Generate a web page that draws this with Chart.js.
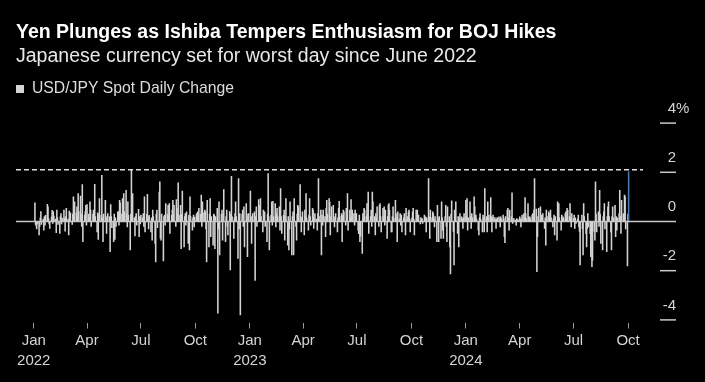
<!DOCTYPE html>
<html><head><meta charset="utf-8">
<script src="https://cdn.jsdelivr.net/npm/chart.js@4.4.1/dist/chart.umd.min.js"></script>
<style>html,body{margin:0;padding:0;background:#000;}canvas{display:block;}</style>
</head><body>
<canvas id="c" width="705" height="382"></canvas>
<script>
// USD/JPY spot daily % change, one value per weekday
const chg2022 = [0.76,-0.12,-0.18,-0.3,-0.1,-0.55,-0.2,0.15,0.4,-0.12,
0.1,-0.35,0.2,-0.15,0.25,0.7,0.6,0.12,-0.1,-0.28,
0.18,0.45,-0.08,0.4,0.22,0.1,-0.45,0.46,0.15,-0.12,
-0.49,0.2,0.32,-0.1,0.14,0.46,0.12,-0.39,0.2,0.53,
0.1,-0.55,0.42,0.15,0.35,-0.12,0.3,1.0,0.25,0.8,
0.35,0.6,0.2,1.13,0.4,1.03,0.3,-0.2,1.5,-0.82,
0.25,0.4,0.66,-0.15,0.69,0.3,0.15,0.8,0.46,-0.2,
0.3,0.46,0.25,1.51,0.2,-0.42,0.35,-0.73,0.3,0.93,
0.25,1.88,0.15,-0.82,0.3,0.86,0.2,-0.49,0.15,0.32,
0.2,-1.23,0.69,0.2,-0.25,-0.82,0.3,-0.73,0.15,-0.2,
0.39,0.39,-0.15,0.86,0.76,0.3,0.93,0.2,1.13,0.4,
1.27,0.3,-0.22,0.8,0.25,-1.16,0.3,2.1,0.2,1.13,
0.15,-0.59,0.2,0.32,-0.15,0.49,-0.62,0.2,-0.1,0.26,
0.15,0.32,-0.2,1.0,-0.42,0.3,1.1,0.2,-0.3,0.25,
-0.42,0.15,-0.76,0.46,0.2,-0.89,-1.64,0.3,0.46,-0.25,
1.2,1.61,-0.68,-0.76,0.3,-1.6,0.2,0.26,-0.15,0.73,
0.3,0.66,0.2,0.73,-0.49,0.25,0.46,0.86,0.3,0.66,
-0.2,0.89,0.53,0.3,1.57,0.25,0.66,-1.1,0.3,1.24,
-1.03,0.2,0.32,-0.15,0.39,-0.89,0.25,-1.16,1.0,0.2,
-0.35,0.15,0.26,-0.22,0.18,0.32,0.12,0.39,0.25,0.53,
0.3,1.07,-0.2,0.8,0.35,0.46,0.39,-0.3,-1.64,0.86,
-1.03,0.3,0.93,-0.62,0.2,-0.96,0.3,0.26,-1.1,0.2,
0.53,-3.73,-0.3,0.8,-1.36,0.3,0.46,-0.76,0.3,1.3,
-0.82,0.2,0.46,-0.2,-0.55,0.4,-1.97,0.3,1.84,0.2,
-0.69,0.15,0.32,0.8,0.2,-1.5,1.74,-0.3,0.32,-3.8,
0.3,0.46,-0.2,0.6,-1.03,0.73,0.2,-1.43,0.3,0.32];

const chg2023 = [1.24,0.2,-0.89,0.15,0.32,0.39,-2.4,0.2,0.6,-0.2,
0.89,0.3,0.66,0.93,0.2,-0.42,0.46,0.15,0.39,-0.2,
-0.82,0.3,1.95,0.2,-1.16,0.25,0.8,-0.15,0.82,0.2,
0.73,-0.22,0.3,0.53,0.2,0.6,-0.35,1.34,0.2,-0.49,
0.25,0.46,-0.76,0.2,0.93,-0.96,0.2,-1.16,-0.3,0.8,
-1.36,0.2,0.39,-1.36,0.93,-0.2,-0.76,0.3,0.66,0.6,
1.5,0.2,-0.42,0.15,0.39,-0.55,0.46,0.2,1.13,0.15,
-0.35,0.26,0.93,0.2,-0.15,0.53,0.46,-0.28,0.15,0.32,
0.1,-0.35,0.32,1.74,0.2,0.46,-1.36,0.26,-0.15,0.46,
0.2,-0.62,0.53,0.86,0.3,0.93,0.8,-0.55,0.2,0.6,
0.66,0.15,-0.22,0.2,0.32,-0.42,0.15,0.53,0.82,0.2,
0.32,-0.82,0.25,0.46,0.39,-0.15,0.53,0.2,1.13,-0.35,
0.46,0.15,0.89,0.2,0.46,0.32,-0.15,0.46,0.2,0.32,
-0.35,-0.5,0.26,-0.82,-0.6,-1.3,0.32,0.15,0.53,0.46,
0.2,0.73,0.3,1.2,-0.49,0.2,0.46,-0.2,1.2,0.8,
0.2,-0.55,0.32,0.15,0.6,-0.2,0.66,0.73,0.2,-0.42,
0.53,0.2,0.6,-0.15,0.46,-0.69,0.2,0.66,0.73,0.46,
-0.42,-0.42,0.2,0.6,0.15,0.86,0.32,0.15,-0.82,0.39,
0.1,0.32,-0.15,0.26,-0.42,0.15,0.32,0.1,-0.55,0.53,
0.2,0.39,0.46,0.1,-0.42,0.15,0.39,0.53,0.1,-0.55,
0.46,0.15,0.46,0.1,0.26,-0.1,0.16,0.08,0.12,-0.08,
0.26,0.1,0.19,-0.42,0.15,1.74,0.2,-0.69,0.46,0.15,
0.39,0.32,0.1,-0.22,0.2,-0.82,0.66,0.15,-0.82,0.2,
-0.69,0.8,0.15,-0.35,-0.69,0.2,0.66,-0.2,-0.82,0.6,
0.2,-1.03,-2.13,0.3,0.84,-0.4,-1.77,0.46,0.2,0.8,
-0.49,0.2,-1.03,0.15,0.32,0.19,0.1,-0.28,0.15,0.32];

const chg2024 = [0.86,0.2,0.93,-0.35,0.15,0.8,0.2,-0.28,0.32,0.15,
1.0,0.6,0.2,0.26,0.1,-0.35,-0.55,0.15,0.32,0.1,
-0.42,0.26,0.15,-0.42,1.34,0.2,-0.42,0.8,0.15,0.26,
0.97,0.2,-0.42,0.15,0.26,0.16,0.08,-0.28,0.1,0.16,
0.19,0.1,-0.22,0.19,0.1,0.26,0.12,-0.62,-0.86,0.2,
0.46,0.53,0.15,-0.35,0.46,0.2,1.16,-0.08,0.1,0.12,
0.06,-0.15,0.12,0.05,0.08,0.19,0.1,-0.22,0.12,0.26,
0.32,0.15,0.97,0.32,0.12,0.73,0.19,0.1,0.19,0.12,
0.26,0.32,0.15,0.46,1.74,0.5,-2.04,-0.62,0.2,0.53,
0.6,0.15,0.26,0.12,0.32,-0.28,0.15,-0.96,0.46,0.2,
0.39,0.12,0.32,0.46,0.15,-0.22,0.12,0.26,-0.55,0.2,
-0.76,0.8,0.2,0.73,0.15,-0.35,0.26,0.1,0.19,0.12,
0.32,0.39,0.15,0.53,0.46,0.2,0.73,0.15,-0.22,0.32,
0.12,0.26,-0.28,0.15,-0.08,0.1,0.26,-0.22,-0.4,-1.77,
0.26,-0.3,-1.36,0.73,0.2,-0.49,-1.03,-0.3,0.32,-0.22,
-0.5,-1.43,-0.6,-1.84,-1.57,-0.4,-0.76,1.61,0.3,-0.42,
0.39,-0.2,1.27,0.3,-0.89,-1.16,0.2,0.39,0.73,-0.3,
-1.23,0.2,0.6,0.8,0.2,-0.42,-1.16,0.2,0.6,0.15,
0.66,-0.62,0.2,-0.35,0.15,0.32,1.27,0.2,-0.49,0.86,
0.3,0.32,1.07,1.0,-0.3,-1.81,0.3,2.02];

const firstDay = '2022-01-03';
const lastDay = '2024-10-02';
const xStart = '2021-12-02';
const xEnd = '2024-12-21';
const tickDates = ['2022-01-01','2022-04-01','2022-07-01','2022-10-01',
                   '2023-01-01','2023-04-01','2023-07-01','2023-10-01',
                   '2024-01-01','2024-04-01','2024-07-01','2024-10-01'];
const monthNames = ['Jan','Feb','Mar','Apr','May','Jun','Jul','Aug','Sep','Oct','Nov','Dec'];
const yTicks = [-4, -2, 0, 2, 4];
const seriesName = 'USD/JPY Spot Daily Change';
const titleText = 'Yen Plunges as Ishiba Tempers Enthusiasm for BOJ Hikes';
const subtitleText = 'Japanese currency set for worst day since June 2022';

const FONT = "'Liberation Sans', Arial, sans-serif";
const GREY = '#d4d4d4';
const BLUE = '#4a7bb0';
const EPOCH = Date.UTC(2022, 0, 1);
const DAY = 86400000;
const dayNum = s => (Date.parse(s + 'T00:00:00Z') - EPOCH) / DAY;

const values = chg2022.concat(chg2023, chg2024);
const days = [];
for (let t = Date.parse(firstDay + 'T00:00:00Z'); t <= Date.parse(lastDay + 'T00:00:00Z'); t += DAY) {
  const wd = new Date(t).getUTCDay();
  if (wd !== 0 && wd !== 6) days.push((t - EPOCH) / DAY);
}
const n = Math.min(values.length, days.length);
const points = [];
for (let i = 0; i < n; i++) points.push({x: days[i], y: values[i]});
const lastIdx = n - 1;
const prevHigh = Math.max(...values.slice(0, lastIdx));
const tickDays = tickDates.map(dayNum);

Chart.defaults.font.family = FONT;

const bgPlugin = {
  id: 'bg',
  beforeDraw(chart) {
    const c = chart.ctx;
    c.save(); c.fillStyle = '#000'; c.fillRect(0, 0, chart.width, chart.height); c.restore();
  }
};

const overlayPlugin = {
  id: 'overlay',
  afterDatasetsDraw(chart) {
    const c = chart.ctx, ys = chart.scales.y, a = chart.chartArea;
    c.save();
    const y0 = ys.getPixelForValue(0);
    c.strokeStyle = '#c8c8c8'; c.lineWidth = 1.5;
    c.beginPath(); c.moveTo(a.left, y0); c.lineTo(a.right, y0); c.stroke();
    const yd = ys.getPixelForValue(prevHigh);
    c.strokeStyle = '#e0e0e0'; c.lineWidth = 1.5; c.setLineDash([5, 3]);
    c.beginPath(); c.moveTo(a.left, yd); c.lineTo(a.right - 33, yd); c.stroke();
    c.setLineDash([]);
    c.font = '15px ' + FONT;
    c.fillStyle = '#d4d4d4';
    c.textBaseline = 'middle';
    yTicks.forEach(v => {
      const y = ys.getPixelForValue(v);
      if (v !== 0) {
        c.strokeStyle = '#c8c8c8'; c.lineWidth = 1.5;
        c.beginPath(); c.moveTo(a.right - 16, y); c.lineTo(a.right, y); c.stroke();
      }
      c.textAlign = 'right';
      c.fillText(String(v), a.right, y - 14.5);
      if (v === yTicks[yTicks.length - 1]) {
        c.textAlign = 'left';
        c.fillText('%', a.right, y - 14.5);
      }
    });
    c.restore();
  }
};

new Chart(document.getElementById('c'), {
  type: 'bar',
  data: {
    datasets: [{
      label: seriesName,
      data: points,
      backgroundColor: ctx => (ctx.dataIndex === lastIdx ? BLUE : GREY),
      borderWidth: 0,
      barThickness: 0.9,
      grouped: false
    }]
  },
  options: {
    responsive: false,
    animation: false,
    devicePixelRatio: 1,
    layout: {padding: {left: 16, right: 29, top: 0, bottom: 8.5}},
    plugins: {
      title: {display: true, text: titleText, align: 'start', color: '#ffffff',
        font: {size: 19.5, weight: 'bold', family: FONT}, padding: {top: 21.3, bottom: 0}},
      subtitle: {display: true, text: subtitleText, align: 'start', color: '#e8e8e8',
        font: {size: 19.5, family: FONT}, padding: {top: 0, bottom: 13}},
      legend: {display: true, align: 'start',
        labels: {boxWidth: 8, boxHeight: 8, padding: 0, color: '#dddddd',
          font: {size: 15.75, family: FONT},
          generateLabels: () => [{text: seriesName, fillStyle: GREY, strokeStyle: GREY, lineWidth: 0, fontColor: '#dddddd'}]}},
      tooltip: {enabled: false}
    },
    scales: {
      x: {
        type: 'linear',
        min: dayNum(xStart),
        max: dayNum(xEnd),
        offset: false,
        afterBuildTicks: s => { s.ticks = tickDays.map(v => ({value: v})); },
        grid: {display: true, drawOnChartArea: false, drawTicks: true, tickLength: 6, color: '#9a9a9a', lineWidth: 1, offset: false},
        border: {display: false},
        ticks: {
          autoSkip: false, maxRotation: 0, minRotation: 0, padding: 2.5,
          color: '#d4d4d4', font: {size: 15, lineHeight: 20 / 15},
          callback: v => {
            const d = new Date(EPOCH + v * DAY);
            const m = monthNames[d.getUTCMonth()];
            return d.getUTCMonth() === 0 ? [m, String(d.getUTCFullYear())] : m;
          }
        }
      },
      y: {display: false, min: -4.106, max: 4.66}
    }
  },
  plugins: [bgPlugin, overlayPlugin]
});
</script>
</body></html>
